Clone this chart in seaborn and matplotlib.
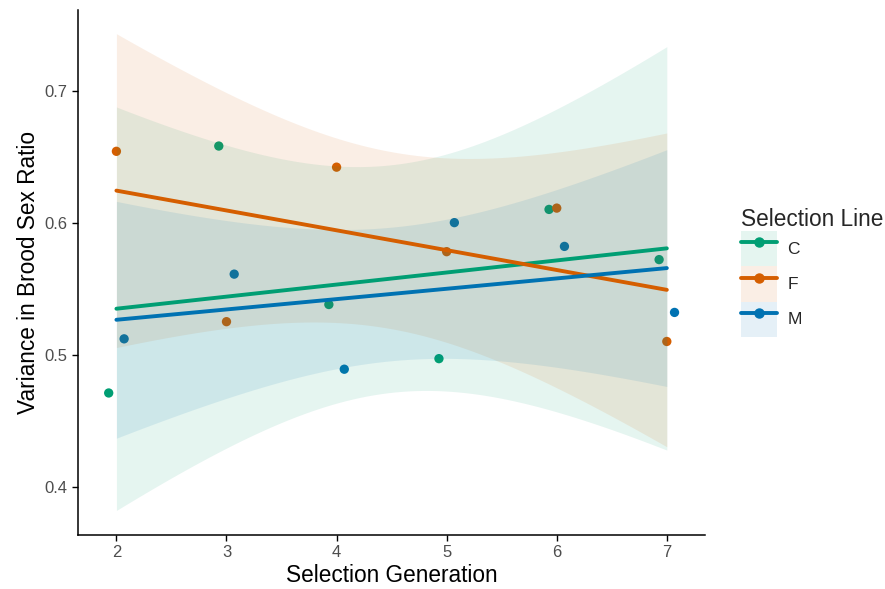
import numpy as np
import pandas as pd
import matplotlib
matplotlib.use("Agg")
import matplotlib.pyplot as plt
import seaborn as sns
from matplotlib.lines import Line2D
from matplotlib.patches import Patch
from matplotlib.legend_handler import HandlerTuple

# data
generation = [2, 3, 4, 5, 6, 7]
var_C = [0.471, 0.658, 0.538, 0.497, 0.610, 0.572]
var_F = [0.654, 0.525, 0.642, 0.578, 0.611, 0.510]
var_M = [0.512, 0.561, 0.489, 0.600, 0.582, 0.532]
lines = ["C", "F", "M"]
dodge = {"C": -0.07, "F": 0.0, "M": 0.07}  # small jitter used in the original
colors = {"C": "#009E73", "F": "#D55E00", "M": "#0072B2"}

df = pd.DataFrame({
    "gen": generation * 3,
    "var": var_C + var_F + var_M,
    "line": ["C"] * 6 + ["F"] * 6 + ["M"] * 6,
})
df["gen_j"] = df["gen"] + df["line"].map(dodge)

sns.set_style("white")
plt.rcParams["font.family"] = ["Liberation Sans", "DejaVu Sans"]

fig, ax = plt.subplots(figsize=(8.85, 5.89), dpi=100)
fig.subplots_adjust(left=0.088, right=0.797, top=0.983, bottom=0.092)

sns.scatterplot(data=df, x="gen_j", y="var", hue="line", palette=colors,
                s=45, edgecolor="none", legend=False, ax=ax, zorder=2)

T975 = 2.776  # t quantile, 4 df
xs = np.linspace(2, 7, 80)
for ln in lines:
    d = df[df["line"] == ln]
    x = d["gen"].to_numpy(float)
    y = d["var"].to_numpy(float)
    b, a = np.polyfit(x, y, 1)
    res = y - (a + b * x)
    s = np.sqrt((res ** 2).sum() / (len(x) - 2))
    sxx = ((x - x.mean()) ** 2).sum()
    fit = a + b * xs
    se = s * np.sqrt(1 / len(x) + (xs - x.mean()) ** 2 / sxx)
    ax.fill_between(xs, fit - T975 * se, fit + T975 * se, color=colors[ln],
                    alpha=0.1, linewidth=0, zorder=3)
    sns.lineplot(x=xs, y=fit, color=colors[ln], linewidth=2.8, ax=ax, zorder=4)

ax.set_xlim(1.65, 7.35)
ax.set_ylim(0.3636, 0.761)
ax.set_xticks([2, 3, 4, 5, 6, 7])
ax.set_yticks([0.4, 0.5, 0.6, 0.7])
ax.set_xlabel("Selection Generation", fontsize=16.3, color="black", labelpad=3)
ax.set_ylabel("Variance in Brood Sex Ratio", fontsize=16.3, color="black", labelpad=3)
ax.tick_params(axis="both", labelsize=12, labelcolor="#4d4d4d", length=4,
               width=1, color="black", bottom=True, left=True)
sns.despine(ax=ax)
for sp in ["left", "bottom"]:
    ax.spines[sp].set_color("black")
    ax.spines[sp].set_linewidth(1.1)

handles = []
for ln in lines:
    bg = Patch(facecolor=colors[ln], alpha=0.1, edgecolor="none")
    mk = Line2D([], [], color=colors[ln], linewidth=2.8, marker="o", markersize=6.5)
    handles.append((bg, mk))
leg = ax.legend(handles, lines, title="Selection Line", loc="center left",
                bbox_to_anchor=(1.045, 0.5), frameon=False, fontsize=12.5,
                title_fontsize=16.3, handler_map={tuple: HandlerTuple(ndivide=1, pad=0)},
                handlelength=2.1, handleheight=2.75, labelspacing=0.0,
                handletextpad=0.6, borderaxespad=0)
leg._legend_box.align = "left"

plt.savefig("out.png", dpi=100)
